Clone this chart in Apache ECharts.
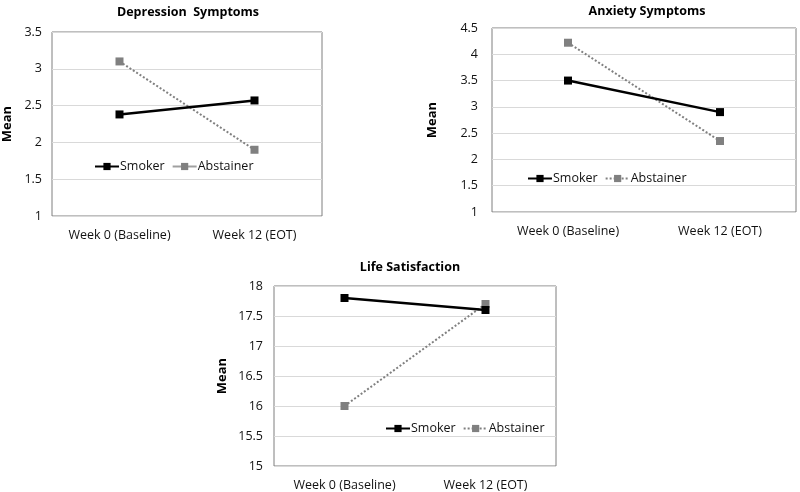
<!DOCTYPE html>
<html><head><meta charset="utf-8">
<script src="https://cdn.jsdelivr.net/npm/echarts@6/dist/echarts.min.js"></script>
<style>html,body{margin:0;padding:0;background:#fff}#c{width:800px;height:492px}</style>
</head><body><div id="c"></div>
<script>
const categories = ['Week 0 (Baseline)', 'Week 12 (EOT)'];
const titles = ['Depression  Symptoms', 'Anxiety Symptoms', 'Life Satisfaction'];
const depSmoker = [2.38, 2.57];
const depAbstainer = [3.1, 1.9];
const anxSmoker = [3.5, 2.9];
const anxAbstainer = [4.22, 2.35];
const lifeSmoker = [17.8, 17.6];
const lifeAbstainer = [16.0, 17.7];
const yRanges = [[1, 3.5, 0.5], [1, 4.5, 0.5], [15, 18, 0.5]];

const font = 'Open Sans';
const grids = [
  {left: 50, top: 32, width: 272, height: 184},
  {left: 492, top: 28, width: 304, height: 184},
  {left: 274, top: 286, width: 282, height: 181}
];
const titlePos = [{x: 183, y: 1}, {x: 642, y: 0}, {x: 405, y: 256}];
const labelMargins = [10, 14, 11];
const nameGaps = [38, 53, 45];
const legendPos = [{left: 89, top: 155}, {left: 522, top: 167}, {left: 380, top: 417}];
const data = [[depSmoker, depAbstainer], [anxSmoker, anxAbstainer], [lifeSmoker, lifeAbstainer]];

const option = {
  animation: false,
  title: titles.map((t, i) => ({
    text: t, left: titlePos[i].x, top: titlePos[i].y, textAlign: 'center',
    textStyle: {fontFamily: font, fontWeight: 'bold', fontSize: 12.5, color: '#000'}
  })),
  grid: grids.map(g => Object.assign({show: true, borderColor: '#7f7f7f', borderWidth: 1, backgroundColor: '#fff'}, g)),
  xAxis: grids.map((g, i) => ({
    type: 'category', gridIndex: i, data: categories, boundaryGap: true,
    axisLine: {show: false}, axisTick: {show: false},
    axisLabel: {fontFamily: font, fontSize: 12.5, color: '#111', margin: 13}
  })),
  yAxis: grids.map((g, i) => ({
    type: 'value', gridIndex: i, min: yRanges[i][0], max: yRanges[i][1], interval: yRanges[i][2],
    name: 'Mean', nameLocation: 'middle', nameRotate: 90, nameGap: nameGaps[i],
    nameTextStyle: {fontFamily: font, fontSize: 13, fontWeight: 'bold', color: '#000'},
    axisLine: {show: false}, axisTick: {show: false},
    axisLabel: {fontFamily: font, fontSize: 12.5, color: '#111', margin: labelMargins[i]},
    splitLine: {lineStyle: {color: '#d9d9d9', width: 1}}
  })),
  legend: grids.map((g, i) => ({
    left: legendPos[i].left, top: legendPos[i].top, itemWidth: 24, itemHeight: 9, itemGap: 7,
    textStyle: {fontFamily: font, fontSize: 12.5, color: '#111', padding: [0, 0, 0, -4]},
    data: [
      {name: 'Smoker' + i},
      {name: 'Abstainer' + i, lineStyle: i === 0 ? {type: 'solid', color: '#a0a0a0', width: 2} : undefined}
    ],
    formatter: n => n.replace(/\d$/, '')
  })),
  series: []
};
data.forEach((pair, i) => {
  option.series.push({
    name: 'Smoker' + i, type: 'line', xAxisIndex: i, yAxisIndex: i, data: pair[0],
    symbol: 'rect', symbolSize: 8, z: 3,
    lineStyle: {color: '#000', width: 2.5}, itemStyle: {color: '#000'}
  });
  option.series.push({
    name: 'Abstainer' + i, type: 'line', xAxisIndex: i, yAxisIndex: i, data: pair[1],
    symbol: 'rect', symbolSize: 8, z: 2,
    lineStyle: {color: '#808080', width: 2, type: [2, 2]}, itemStyle: {color: '#808080'}
  });
});
echarts.init(document.getElementById('c')).setOption(option);
</script></body></html>
